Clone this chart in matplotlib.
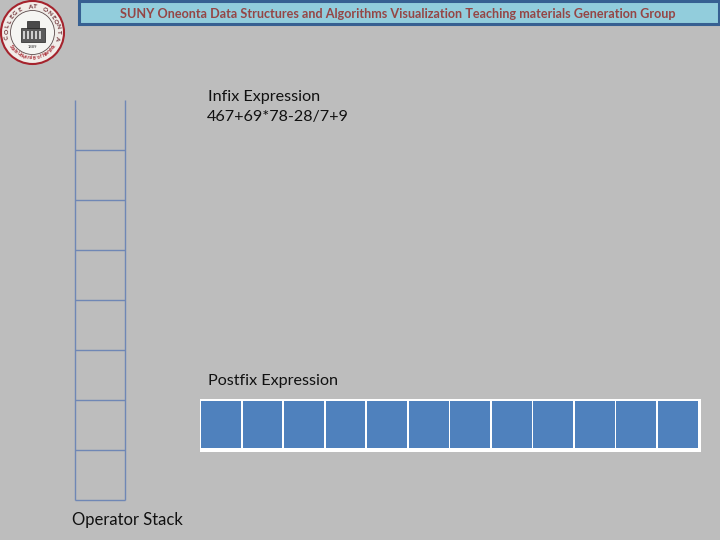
import numpy as np
import matplotlib
matplotlib.use("Agg")
import matplotlib.pyplot as plt
from matplotlib.patches import Rectangle, Circle

title_text = "SUNY Oneonta Data Structures and Algorithms Visualization Teaching materials Generation Group"
infix_label = "Infix Expression"
infix_value = "467+69*78-28/7+9"
postfix_label = "Postfix Expression"
stack_label = "Operator Stack"
seal_top = "COLLEGE AT ONEONTA"
seal_bottom = "State University of New York"
stack_cells = 8
postfix_cells = 12

BG = "#BDBDBD"
plt.rcParams["font.family"] = ["Lato", "DejaVu Sans"]
fig = plt.figure(figsize=(7.2, 5.4), dpi=100, facecolor=BG)
ax = fig.add_axes([0, 0, 1, 1])
ax.set_xlim(0, 720)
ax.set_ylim(540, 0)
ax.axis("off")

# title bar
ax.add_patch(Rectangle((78.5, 1), 640, 23, fc="#92CDDC", ec="#376092", lw=2.2))
ax.text(398, 13.5, title_text, ha="center", va="center", color="#953735",
        fontsize=9.1, fontweight="bold", alpha=0.9)

# seal
cx, cy, r = 32.5, 32.5, 31.5
ax.add_patch(Circle((cx, cy), r, fc="#F1EDE9", ec="#A5232D", lw=1.5))
ax.add_patch(Circle((cx, cy), r - 9.5, fc="#F5F5F2", ec="#5A4A4A", lw=0.6))
ax.add_patch(Rectangle((cx - 12, cy - 5), 24, 14, fc="#5A5A5A", ec="#222222", lw=0.5))
ax.add_patch(Rectangle((cx - 6, cy - 12), 12, 7, fc="#4A4A4A", ec="#222222", lw=0.5))
for i in range(5):
    ax.add_patch(Rectangle((cx - 10 + i * 4.2, cy - 2), 2, 8, fc="#CFCFCF", lw=0))
ax.text(cx, cy + 15, "1889", ha="center", va="center", fontsize=3, color="#333333")

def arc_text(s, start, end, radius, color, flip=False):
    angles = np.linspace(start, end, len(s))
    for ch, a in zip(s, angles):
        x = cx + radius * np.cos(np.radians(a))
        y = cy - radius * np.sin(np.radians(a))
        rot = a - 90 if not flip else a + 90
        ax.text(x, y, ch, ha="center", va="center", rotation=rot,
                fontsize=4.6 if not flip else 3.4, color=color, fontweight="bold")

arc_text(seal_top, 190, -10, 25.5, "#6A2A30")
arc_text(seal_bottom, 212, 328, 25.5, "#A5232D", flip=True)

# operator stack: open-topped column of cells
sx0, sx1 = 75, 125
sy0, cell_h = 100, 50
line = dict(color="#6F87B5", lw=1.0, solid_capstyle="butt")
sy1 = sy0 + stack_cells * cell_h
ax.plot([sx0, sx0], [sy0, sy1], **line)
ax.plot([sx1, sx1], [sy0, sy1], **line)
for i in range(1, stack_cells + 1):
    ax.plot([sx0, sx1], [sy0 + i * cell_h] * 2, **line)

# postfix row
px0, px1 = 199.5, 701
ax.add_patch(Rectangle((px0, 399), px1 - px0, 52.5, fc="white", lw=0))
edges = np.linspace(201, 699.5, postfix_cells + 1)
for a, b in zip(edges[:-1], edges[1:]):
    ax.add_patch(Rectangle((a, 401), b - a - 1.7, 47, fc="#4F81BD", lw=0))

# labels
tcolor = "#111111"
ax.text(207.5, 96.5, infix_label, va="center", fontsize=11.6, color=tcolor)
ax.text(206.5, 116.5, infix_value, va="center", fontsize=11.6, color=tcolor)
ax.text(207.5, 380.5, postfix_label, va="center", fontsize=11.6, color=tcolor)
ax.text(72, 520.5, stack_label, va="center", fontsize=12, color=tcolor)

fig.savefig("out.png", dpi=100, facecolor=BG)
